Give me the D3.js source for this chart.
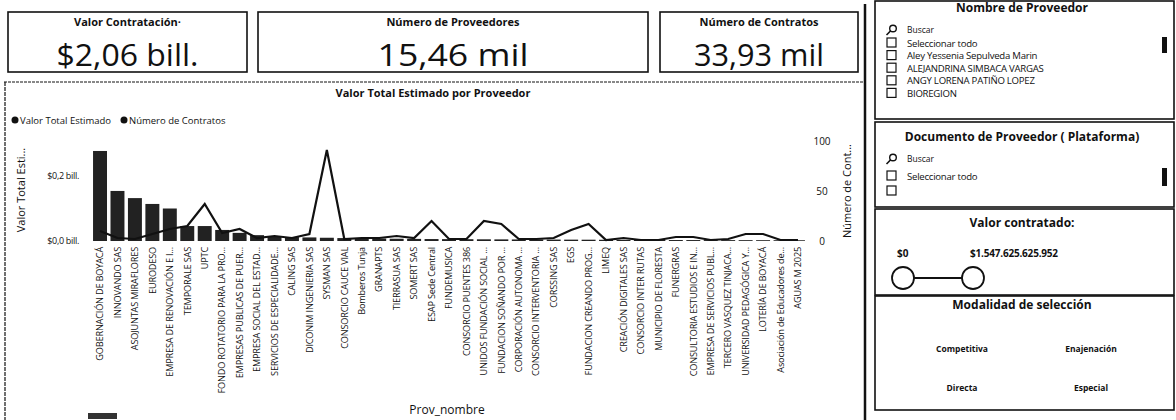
<!DOCTYPE html>
<html><head><meta charset="utf-8">
<script src="https://cdn.jsdelivr.net/npm/d3@7"></script>
<style>
body{margin:0;background:#fff;}
svg{display:block;font-family:"Open Sans","Noto Sans",sans-serif;}
</style></head><body>
<svg id="c" width="1176" height="420"></svg>
<script>
const categories = [
 "GOBERNACIÓN DE BOYACÁ","INNOVANDO SAS","ASOJUNTAS MIRAFLORES","EURODESO",
 "EMPRESA DE RENOVACIÓN E I...","TEMPORALE SAS","UPTC","FONDO ROTATORIO PARA LA PRO...",
 "EMPRESAS PUBLICAS DE PUER...","EMPRESA SOCIAL DEL ESTAD...","SERVICIOS DE ESPECIALIDADE...",
 "CALING SAS","DICONIM INGENIERIA SAS","SYSMAN SAS","CONSORCIO CAUCE VIAL","Bomberos Tunja",
 "GRANAPTS","TIERRASUA SAS","SOMERT SAS","ESAP Sede Central","FUNDEMUSICA",
 "CONSORCIO PUENTES 386","UNIDOS FUNDACIÓN SOCIAL ...","FUNDACION SOÑANDO POR ...",
 "CORPORACIÓN AUTONOMA ...","CONSORCIO INTERVENTORIA ...","CORSSING SAS","EGS",
 "FUNDACION CREANDO PROG...","LIMEQ","CREACIÓN DIGITALES SAS","CONSORCIO INTER RUTAS",
 "MUNICIPIO DE FLORESTA","FUNERGRAS","CONSULTORIA ESTUDIOS E IN...","EMPRESA DE SERVICIOS PUBL...",
 "TERCERO VASQUEZ TINJACA...","UNIVERSIDAD PEDAGÓGICA Y...","LOTERÍA DE BOYACÁ",
 "Asociación de Educadores de...","AGUAS M 2025"
];
// Valor Total Estimado (billones)
const valorTotal = [
 0.277,0.154,0.132,0.114,0.100,0.046,0.046,0.034,0.025,0.018,0.014,
 0.012,0.011,0.010,0.009,0.008,0.0075,0.007,0.0065,0.006,0.0058,
 0.0055,0.0052,0.005,0.0048,0.0046,0.0044,0.0042,0.004,0.0038,0.0036,
 0.0034,0.0032,0.003,0.0029,0.0028,0.0027,0.0026,0.0025,0.0024,0.0023
];
// Número de Contratos
const numContratos = [
 10,3,2,7,12,15,37,8,12,3,5,
 3,7,91,2,3,3,5,3,20,2,
 2,20,17,2,2,3,11,17,1,3,
 1,1,4,4,1,2,7,7,1,1
];
const leftTickValues = [0, 0.2];
const leftTickLabels = ["$0,0 bill.", "$0,2 bill."];
const rightTickValues = [0, 50, 100];
const kpiTitles = ["Valor Contratación·", "Número de Proveedores", "Número de Contratos"];
const kpiValues = ["$2,06 bill.", "15,46 mil", "33,93 mil"];
const proveedorItems = ["Seleccionar todo","Aley Yessenia Sepulveda Marin","ALEJANDRINA SIMBACA VARGAS","ANGY LORENA PATIÑO LOPEZ","BIOREGION"];
const documentoItems = ["Seleccionar todo",""];
const rangoValores = ["$0", "$1.547.625.625.952"];
const modalidades = ["Competitiva","Enajenación","Directa","Especial"];

const svg = d3.select("#c");
const ink = "#111";

// ---------- KPI cards ----------
const cards = [
  {x:8, w:239, tw:142},
  {x:258, w:390, tw:151},
  {x:660, w:198, tw:130}
];
cards.forEach((c,i)=>{
  svg.append("rect").attr("x",c.x).attr("y",12).attr("width",c.w).attr("height",60)
    .attr("fill","none").attr("stroke",ink).attr("stroke-width",1.6);
  const cx = c.x + c.w/2;
  svg.append("text").attr("x",cx).attr("y",26).attr("text-anchor","middle")
    .attr("font-size",11).attr("font-weight",700).attr("fill",ink).text(kpiTitles[i]);
  svg.append("text").attr("x",cx - c.tw/2).attr("y",66)
    .attr("font-size",31).attr("fill",ink)
    .attr("textLength",c.tw).attr("lengthAdjust","spacingAndGlyphs").text(kpiValues[i]);
});

// separator
svg.append("line").attr("x1",865).attr("x2",865).attr("y1",4).attr("y2",420)
  .attr("stroke",ink).attr("stroke-width",2.5);

// ---------- main chart panel ----------
svg.append("line").attr("x1",4).attr("x2",865).attr("y1",82).attr("y2",82)
  .attr("stroke",ink).attr("stroke-width",1).attr("stroke-dasharray","3,1");
svg.append("line").attr("x1",5).attr("x2",5).attr("y1",82).attr("y2",420)
  .attr("stroke",ink).attr("stroke-width",1.2).attr("stroke-dasharray","4,1");

svg.append("text").attr("x",433).attr("y",97).attr("text-anchor","middle")
  .attr("font-size",11).attr("font-weight",700).attr("fill",ink)
  .text("Valor Total Estimado por Proveedor");

// legend
const legend = [{x:15,t:"Valor Total Estimado"},{x:124,t:"Número de Contratos"}];
legend.forEach(l=>{
  svg.append("circle").attr("cx",l.x).attr("cy",120).attr("r",3.5).attr("fill",ink);
  svg.append("text").attr("x",l.x+5).attr("y",123.5).attr("font-size",9.5)
    .attr("fill",ink).text(l.t);
});

const x = d3.scaleBand().domain(categories).range([91.3, 806.7])
  .paddingInner(0.2).paddingOuter(0.1);
const yL = d3.scaleLinear().domain([0, 0.3077]).range([241, 141]);
const yR = d3.scaleLinear().domain([0, 100]).range([241, 141]);

// bars
svg.append("g").selectAll("rect").data(categories).join("rect")
  .attr("x",d=>x(d)).attr("width",x.bandwidth())
  .attr("y",(d,i)=>yL(valorTotal[i]))
  .attr("height",(d,i)=>yL(0)-yL(valorTotal[i]))
  .attr("fill","#222");

// line
const line = d3.line().x((d,i)=>x(categories[i])+x.bandwidth()/2).y(d=>yR(d));
svg.append("path").datum(numContratos).attr("d",line)
  .attr("fill","none").attr("stroke",ink).attr("stroke-width",2.2)
  .attr("stroke-linejoin","miter");

// left axis
const gL = svg.append("g").attr("transform","translate(82,0)")
  .call(d3.axisLeft(yL).tickValues(leftTickValues).tickSize(0).tickPadding(3)
    .tickFormat((d,i)=>leftTickLabels[i]));
gL.select(".domain").remove();
gL.selectAll("text").attr("font-size",9).attr("fill",ink)
  .attr("font-family","'Open Sans','Noto Sans',sans-serif").attr("letter-spacing","-0.3");

// right axis
const gR = svg.append("g").attr("transform","translate(812,0)")
  .call(d3.axisRight(yR).tickValues(rightTickValues).tickSize(0).tickPadding(0));
gR.select(".domain").remove();
gR.selectAll("text").attr("x",10).attr("text-anchor","middle").attr("font-size",10)
  .attr("fill",ink).attr("font-family","'Open Sans','Noto Sans',sans-serif");

// x axis
const gX = svg.append("g").attr("transform","translate(0,242)")
  .call(d3.axisBottom(x).tickSize(0));
gX.select(".domain").remove();
gX.selectAll("text")
  .attr("transform","rotate(-90)").attr("text-anchor","end")
  .attr("x",-5).attr("y",0).attr("dy","0.35em")
  .attr("font-size",9.2).attr("fill",ink).attr("letter-spacing","-0.2")
  .attr("font-family","'Open Sans','Noto Sans',sans-serif");

// axis titles
svg.append("text").attr("transform","translate(25,190) rotate(-90)")
  .attr("text-anchor","middle").attr("font-size",11).attr("fill",ink).text("Valor Total Esti...");
svg.append("text").attr("transform","translate(851,191) rotate(-90)")
  .attr("text-anchor","middle").attr("font-size",11).attr("fill",ink).text("Número de Cont...");
svg.append("text").attr("x",447).attr("y",414).attr("text-anchor","middle")
  .attr("font-size",12).attr("fill",ink).text("Prov_nombre");

// scrollbar stub
svg.append("rect").attr("x",88).attr("y",413).attr("width",29).attr("height",6).attr("fill","#333");

// ---------- right slicers ----------
function panel(y, h){
  svg.append("rect").attr("x",875).attr("y",y).attr("width",299).attr("height",h)
    .attr("fill","none").attr("stroke",ink).attr("stroke-width",1.6);
}
function title(t, y){
  svg.append("text").attr("x",1022).attr("y",y).attr("text-anchor","middle")
    .attr("font-size",12).attr("font-weight",700).attr("fill",ink).text(t);
}
function searchRow(y){
  svg.append("circle").attr("cx",893).attr("cy",y-3.5).attr("r",3.3).attr("fill","none")
    .attr("stroke",ink).attr("stroke-width",1.4);
  svg.append("line").attr("x1",890.7).attr("y1",y-1.2).attr("x2",886.5).attr("y2",y+3)
    .attr("stroke",ink).attr("stroke-width",1.6);
  svg.append("text").attr("x",907).attr("y",y+1).attr("font-size",8.5).attr("fill",ink).text("Buscar");
}
function checkRow(t, y){
  svg.append("rect").attr("x",887).attr("y",y-7).attr("width",9).attr("height",9)
    .attr("fill","none").attr("stroke",ink).attr("stroke-width",1.2);
  svg.append("text").attr("x",907).attr("y",y+1.5).attr("font-size",9.6)
    .attr("letter-spacing","-0.25").attr("fill",ink).text(t);
}

panel(1, 118);
title("Nombre de Proveedor", 12);
searchRow(32);
proveedorItems.forEach((t,i)=>checkRow(t, 45 + i*12.6));
svg.append("rect").attr("x",1162).attr("y",37).attr("width",5).attr("height",16).attr("fill",ink);

panel(122, 85);
title("Documento de Proveedor ( Plataforma)", 141);
searchRow(161);
documentoItems.forEach((t,i)=>checkRow(t, 178 + i*15));
svg.append("rect").attr("x",1162).attr("y",168).attr("width",5).attr("height",18).attr("fill",ink);

panel(209, 86);
title("Valor contratado:", 227);
svg.append("text").attr("x",897).attr("y",257).attr("font-size",10).attr("font-weight",700)
  .attr("fill",ink).text(rangoValores[0]);
svg.append("text").attr("x",970).attr("y",257).attr("font-size",10).attr("font-weight",700)
  .attr("letter-spacing","-0.2").attr("fill",ink).text(rangoValores[1]);
svg.append("line").attr("x1",903).attr("x2",973).attr("y1",278).attr("y2",278)
  .attr("stroke",ink).attr("stroke-width",2);
[903,973].forEach(cx=>svg.append("circle").attr("cx",cx).attr("cy",278).attr("r",11)
  .attr("fill","#fff").attr("stroke",ink).attr("stroke-width",1.8));

panel(296, 114);
title("Modalidad de selección", 309);
const modPos = [[962,352],[1091,352],[962,391],[1091,391]];
modalidades.forEach((t,i)=>svg.append("text").attr("x",modPos[i][0]).attr("y",modPos[i][1])
  .attr("text-anchor","middle").attr("font-size",8.5).attr("font-weight",700).attr("fill",ink).text(t));
</script>
</body></html>
